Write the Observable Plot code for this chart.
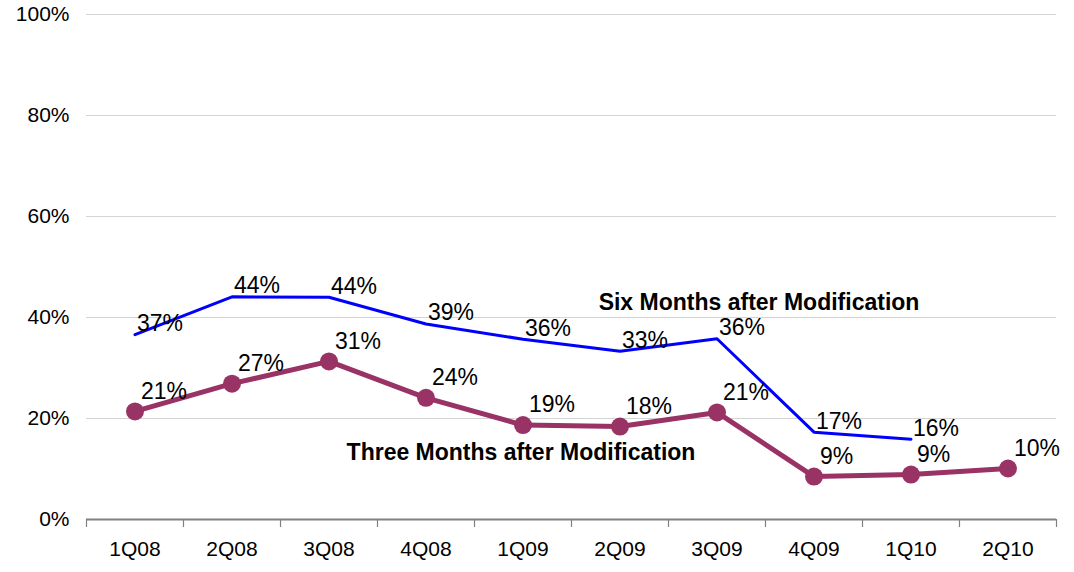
<!DOCTYPE html>
<html>
<head>
<meta charset="utf-8">
<script src="https://cdn.jsdelivr.net/npm/d3@7"></script>
<script src="https://cdn.jsdelivr.net/npm/@observablehq/plot@0.6"></script>
<style>
  html, body { margin: 0; padding: 0; background: #fff; }
  svg { font-family: "Liberation Sans", Arial, sans-serif; }
</style>
</head>
<body>
<div id="chart"></div>
<script>
const categories = ["1Q08","2Q08","3Q08","4Q08","1Q09","2Q09","3Q09","4Q09","1Q10","2Q10"];
const sixMonths = [36.6, 44.1, 44.0, 38.7, 35.7, 33.3, 35.8, 17.3, 15.9, null];
const threeMonths = [21.4, 26.9, 31.3, 24.1, 18.7, 18.4, 21.2, 8.5, 8.9, 10.1];
const yTicks = [0, 20, 40, 60, 80, 100];
const seriesNames = ["Six Months after Modification", "Three Months after Modification"];

const six = categories.map((c, i) => ({i, c, v: sixMonths[i]})).filter(d => d.v != null);
const three = categories.map((c, i) => ({i, c, v: threeMonths[i]}));
const centers = categories.map((c, i) => i);
const bounds = d3.range(categories.length + 1).map(i => i - 0.5);
const pct = v => Math.round(v) + "%";

const chart = Plot.plot({
  width: 1074,
  height: 572,
  marginLeft: 86,
  marginRight: 18,
  marginTop: 14,
  marginBottom: 53,
  style: {fontFamily: "'Liberation Sans', Arial, sans-serif", color: "#000"},
  x: {type: "linear", domain: [-0.5, categories.length - 0.5]},
  y: {domain: [0, 100]},
  marks: [
    Plot.gridY(yTicks.filter(t => t > 0), {stroke: "#d4d4d4", strokeOpacity: 1, strokeWidth: 1}),
    Plot.axisY({ticks: yTicks, tickSize: 0, tickPadding: 17, tickFormat: d => d + "%", fontSize: 21, fill: "#000", label: null}),
    Plot.axisX({ticks: bounds, tickSize: 8, tickFormat: () => "", stroke: "#808080", strokeWidth: 1.2, label: null}),
    Plot.axisX({ticks: centers, tickSize: 0, tickPadding: 22, tickFormat: i => categories[i], fontSize: 21, fill: "#000", label: null}),
    Plot.ruleY([0], {stroke: "#808080", strokeWidth: 1.8}),
    Plot.line(six, {x: "i", y: "v", stroke: "#0000ff", strokeWidth: 3}),
    Plot.line(three, {x: "i", y: "v", stroke: "#993366", strokeWidth: 5}),
    Plot.dot(three, {x: "i", y: "v", r: 9, fill: "#993366", stroke: "none"}),
    Plot.text(six, {x: "i", y: "v", text: d => pct(d.v), dx: 2, dy: -11, textAnchor: "start", fontSize: 23, fill: "#000"}),
    Plot.text(three, {x: "i", y: "v", text: d => pct(d.v), dx: 6, dy: -20, textAnchor: "start", fontSize: 23, fill: "#000"}),
    Plot.text([six[6]], {x: "i", y: "v", text: () => seriesNames[0], dx: 42, dy: -36, textAnchor: "middle", fontSize: 23, fontWeight: "bold", fill: "#000"}),
    Plot.text([three[5]], {x: "i", y: "v", text: () => seriesNames[1], dx: -99, dy: 26, textAnchor: "middle", fontSize: 23, fontWeight: "bold", fill: "#000"})
  ]
});
document.getElementById("chart").appendChild(chart);
</script>
</body>
</html>
